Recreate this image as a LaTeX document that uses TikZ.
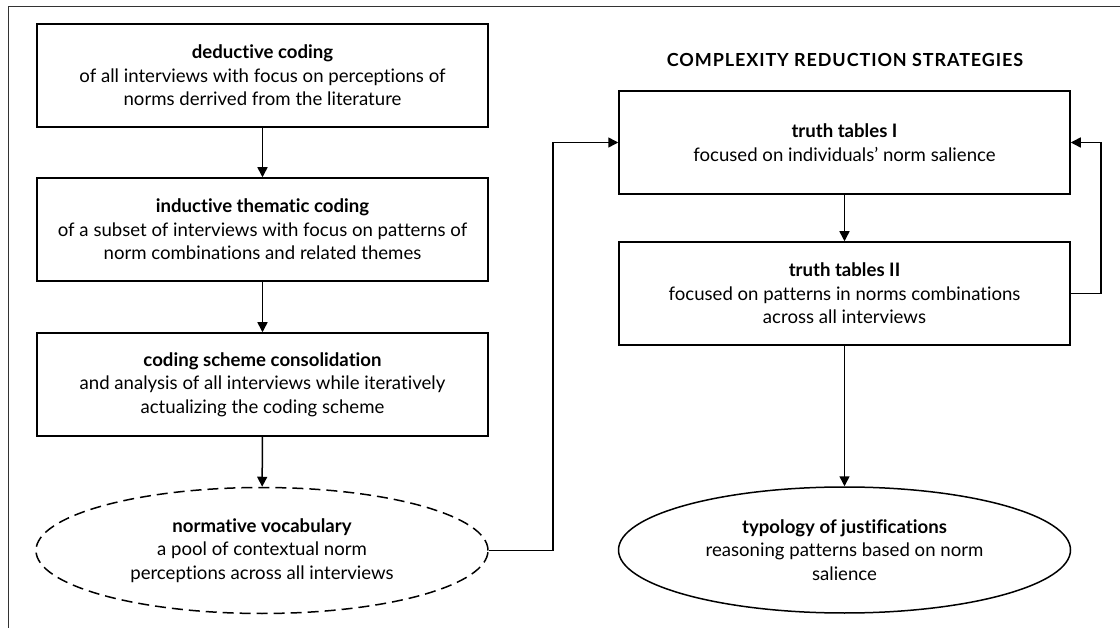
\documentclass[tikz,border=0pt]{standalone}
\usepackage{fontspec}
\setmainfont{Lato}[Ligatures=NoCommon]
\usetikzlibrary{arrows.meta,shapes.geometric,calc}
\begin{document}
\begin{tikzpicture}[x=1pt,y=-1pt,
  txt/.style={font=\fontsize{18.6}{23.5}\selectfont},
  box/.style={txt,draw,line width=1.5pt,minimum width=451pt,minimum height=103pt,align=center,inner sep=0pt},
  oval/.style={txt,draw,ellipse,line width=1.5pt,minimum width=452pt,minimum height=126pt,align=center,inner sep=0pt},
  dashedoval/.style={oval,dash pattern=on 11pt off 6pt},
  arr/.style={line width=1.5pt,-{Triangle[length=10pt,width=10pt]}},
  frameline/.style={line width=1pt,draw=black!80}]
\useasboundingbox (0,0) rectangle (1120,628);
\draw[frameline] (8,628) -- (8,7) -- (1120,7);

\node[box] (b1) at (262.5,75.5) {\textbf{deductive coding}\\of all interviews with focus on perceptions of\\norms derrived from the literature};
\node[box] (b2) at (262.5,229.5) {\textbf{inductive thematic coding}\\of a subset of interviews with focus on patterns of\\norm combinations and related themes};
\node[box] (b3) at (262.5,384.5) {\textbf{coding scheme consolidation}\\and analysis of all interviews while iteratively\\actualizing the coding scheme};
\node[dashedoval] (v1) at (262,550.5) {\textbf{normative vocabulary}\\a pool of contextual norm\\perceptions across all interviews};

\node[txt,font=\fontsize{18}{20}\selectfont\bfseries\addfontfeatures{LetterSpace=5}] (title) at (845,60) {COMPLEXITY REDUCTION STRATEGIES};
\node[box] (t1) at (844.5,142.5) {\textbf{truth tables I}\\focused on individuals’ norm salience};
\node[box] (t2) at (844.5,293.5) {\textbf{truth tables II}\\focused on patterns in norms combinations\\across all interviews};
\node[oval] (v2) at (844.5,550) {\textbf{typology of justifications}\\reasoning patterns based on norm\\salience};

\coordinate (xb) at (553,0);
\coordinate (xc) at (1101,0);
\draw[arr] (b1) -- (b2);
\draw[arr] (b2) -- (b3);
\draw[arr] (b3) -- (v1);
\draw[arr] (v1.east) -- (v1.east -| xb) -- (xb |- t1.west) -- (t1.west);
\draw[arr] (t1) -- (t2);
\draw[arr] (t2.east) -- (t2.east -| xc) -- (xc |- t1.east) -- (t1.east);
\draw[arr] (t2) -- (v2);
\end{tikzpicture}
\end{document}
